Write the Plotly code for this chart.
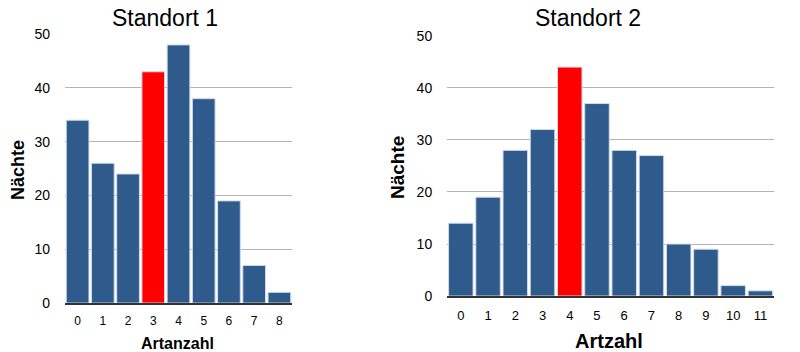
import plotly.graph_objects as go

cats1 = [0, 1, 2, 3, 4, 5, 6, 7, 8]
vals1 = [34, 26, 24, 43, 48, 38, 19, 7, 2]
highlight1 = 3

cats2 = [0, 1, 2, 3, 4, 5, 6, 7, 8, 9, 10, 11]
vals2 = [14, 19, 28, 32, 44, 37, 28, 27, 10, 9, 2, 1]
highlight2 = 4

yticks = [0, 10, 20, 30, 40, 50]

BLUE = "#2e5a8c"
RED = "#ff0000"
FONT = "Liberation Sans, Arial, sans-serif"

def colors(cats, hl):
    return [RED if c == hl else BLUE for c in cats]

fig = go.Figure()
fig.add_trace(go.Bar(x=cats1, y=vals1, marker=dict(color=colors(cats1, highlight1),
                     line=dict(color="#d0dbe8", width=1)), xaxis="x", yaxis="y", showlegend=False))
fig.add_trace(go.Bar(x=cats2, y=vals2, marker=dict(color=colors(cats2, highlight2),
                     line=dict(color="#d0dbe8", width=1)), xaxis="x2", yaxis="y2", showlegend=False))

common_y = dict(range=[0, 50], tickvals=yticks, showgrid=True, gridcolor="#b4b4b4", gridwidth=1,
                zeroline=False, showline=False, ticks="", tickfont=dict(family=FONT, size=14, color="#000"),
                ticklabelstandoff=14, fixedrange=True, automargin=False)

fig.update_layout(
    width=800, height=352, margin=dict(l=0, r=0, t=0, b=0, autoexpand=False),
    paper_bgcolor="white", plot_bgcolor="white", bargap=0.1,
    font=dict(family=FONT, color="#000"),
    xaxis=dict(domain=[0.08125, 0.365], range=[-0.5, 8.5], tickvals=cats1, anchor="y",
               showgrid=False, zeroline=False, showline=True, linecolor="#333", linewidth=1.5,
               ticks="", tickfont=dict(family=FONT, size=12), ticklabelstandoff=6, automargin=False),
    yaxis=dict(domain=[0.139, 0.903], anchor="x", **common_y),
    xaxis2=dict(domain=[0.559, 0.9675], range=[-0.5, 11.5], tickvals=cats2, anchor="y2",
                showgrid=False, zeroline=False, showline=True, linecolor="#333", linewidth=1.5,
                ticks="", tickfont=dict(family=FONT, size=13), ticklabelstandoff=7, automargin=False),
    yaxis2=dict(domain=[0.159, 0.898], anchor="x2", **common_y),
)

ann = [
    dict(text="Standort 1", x=165, y=18, size=23, bold=False, angle=0),
    dict(text="Standort 2", x=588, y=18, size=23, bold=False, angle=0),
    dict(text="Artanzahl", x=177, y=343, size=16, bold=True, angle=0),
    dict(text="Artzahl", x=609, y=341, size=20, bold=True, angle=0),
    dict(text="Nächte", x=18, y=170, size=18, bold=True, angle=-90),
    dict(text="Nächte", x=397, y=168, size=19, bold=True, angle=-90),
]
for a in ann:
    t = f"<b>{a['text']}</b>" if a["bold"] else a["text"]
    fig.add_annotation(text=t, x=a["x"] / 800, y=1 - a["y"] / 352, xref="paper", yref="paper",
                       xanchor="center", yanchor="middle", showarrow=False, textangle=a["angle"],
                       font=dict(family=FONT, size=a["size"], color="#000"))

fig.write_html("out.html")
